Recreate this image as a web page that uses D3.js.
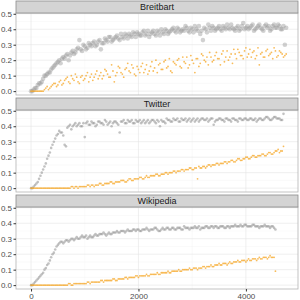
<!DOCTYPE html>
<html lang="en">
<head>
<meta charset="utf-8">
<title>Facets</title>
<script src="https://cdn.jsdelivr.net/npm/d3@7"></script>
<style>
body { margin: 0; background: #ffffff; }
svg { display: block; font-family: "Liberation Sans", Arial, sans-serif; }
</style>
</head>
<body>
<script>
// shared x positions (iterations): full steps and the half steps in between
var steps = [0,50,100,150,200,250,300,350,400,450,500,550,600,650,700,750,800,850,900,950,
  1000,1050,1100,1150,1200,1250,1300,1350,1400,1450,1500,1550,1600,1650,1700,1750,1800,1850,1900,1950,
  2000,2050,2100,2150,2200,2250,2300,2350,2400,2450,2500,2550,2600,2650,2700,2750,2800,2850,2900,2950,
  3000,3050,3100,3150,3200,3250,3300,3350,3400,3450,3500,3550,3600,3650,3700,3750,3800,3850,3900,3950,
  4000,4050,4100,4150,4200,4250,4300,4350,4400,4450,4500,4550,4600,4650,4700,4750];
var halfSteps = [25,75,125,175,225,275,325,375,425,475,525,575,625,675,725,775,825,875,925,975,
  1025,1075,1125,1175,1225,1275,1325,1375,1425,1475,1525,1575,1625,1675,1725,1775,1825,1875,1925,1975,
  2025,2075,2125,2175,2225,2275,2325,2375,2425,2475,2525,2575,2625,2675,2725,2775,2825,2875,2925,2975,
  3025,3075,3125,3175,3225,3275,3325,3375,3425,3475,3525,3575,3625,3675,3725,3775,3825,3875,3925,3975,
  4025,4075,4125,4175,4225,4275,4325,4375,4425,4475,4525,4575,4625,4675,4725];

var facetNames = ["Breitbart", "Twitter", "Wikipedia"];

var breitbartGrey = [0.00,0.01,0.02,0.05,0.06,0.10,0.11,0.12,0.15,0.17,0.19,0.18,0.22,0.23,0.20,0.25,0.24,0.27,0.33,0.26,
  0.29,0.28,0.30,0.31,0.29,0.32,0.27,0.31,0.33,0.35,0.32,0.34,0.36,0.33,0.35,0.37,0.34,0.36,0.38,0.35,
  0.37,0.36,0.39,0.37,0.35,0.38,0.37,0.39,0.36,0.38,0.40,0.37,0.39,0.41,0.38,0.40,0.39,0.39,0.41,0.38,
  0.40,0.42,0.39,0.37,0.33,0.40,0.43,0.39,0.41,0.40,0.42,0.39,0.41,0.43,0.40,0.41,0.39,0.42,0.40,0.44,
  0.41,0.40,0.42,0.39,0.41,0.43,0.40,0.42,0.41,0.39,0.42,0.41,0.43,0.40,0.42,0.41];
var breitbartGreyHalf = [0.00,0.02,0.04,0.05,0.08,0.10,0.12,0.14,0.16,0.18,0.20,0.21,0.21,0.24,0.23,0.26,0.25,0.28,0.27,0.30,
  0.27,0.31,0.29,0.32,0.30,0.33,0.31,0.34,0.32,0.35,0.33,0.35,0.34,0.37,0.34,0.36,0.37,0.35,0.37,0.38,
  0.36,0.38,0.36,0.39,0.37,0.39,0.36,0.38,0.40,0.37,0.39,0.38,0.40,0.39,0.41,0.38,0.40,0.42,0.39,0.41,
  0.38,0.40,0.42,0.39,0.41,0.38,0.41,0.42,0.39,0.41,0.40,0.42,0.40,0.41,0.43,0.40,0.41,0.39,0.42,0.40,
  0.42,0.41,0.43,0.40,0.42,0.41,0.39,0.43,0.42,0.40,0.43,0.41,0.42,0.40,0.30];
var breitbartOrange = [0.00,0.00,0.00,0.00,0.00,0.01,0.03,0.02,0.04,0.05,0.04,0.07,0.05,0.08,0.06,0.10,0.07,0.09,0.05,0.10,
  0.08,0.12,0.09,0.07,0.11,0.08,0.12,0.10,0.13,0.09,0.17,0.06,0.12,0.15,0.11,0.14,0.18,0.12,0.15,0.10,
  0.14,0.16,0.12,0.17,0.13,0.19,0.15,0.12,0.18,0.14,0.20,0.16,0.13,0.19,0.17,0.21,0.15,0.19,0.22,0.17,
  0.20,0.12,0.21,0.18,0.23,0.19,0.17,0.22,0.20,0.25,0.21,0.24,0.19,0.26,0.22,0.18,0.24,0.27,0.23,0.21,
  0.28,0.24,0.22,0.26,0.23,0.17,0.25,0.22,0.27,0.24,0.21,0.26,0.23,0.25,0.22,0.24];
var breitbartOrangeHalf = [0.00,0.00,0.00,0.00,0.00,0.02,0.01,0.03,0.05,0.03,0.06,0.04,0.07,0.09,0.05,0.08,0.11,0.06,0.09,0.07,
  0.10,0.06,0.11,0.09,0.13,0.10,0.08,0.14,0.11,0.09,0.13,0.10,0.16,0.12,0.09,0.15,0.13,0.17,0.11,0.16,
  0.12,0.18,0.14,0.11,0.16,0.13,0.20,0.17,0.14,0.19,0.15,0.21,0.12,0.18,0.20,0.16,0.22,0.18,0.15,0.23,
  0.18,0.21,0.16,0.24,0.20,0.22,0.25,0.19,0.23,0.21,0.17,0.26,0.22,0.20,0.24,0.27,0.21,0.25,0.23,0.26,
  0.22,0.27,0.25,0.21,0.28,0.24,0.22,0.26,0.23,0.25,0.28,0.22,0.26,0.24,0.23];

var twitterGrey = [0.00,0.01,0.03,0.06,0.10,0.14,0.19,0.23,0.28,0.32,0.35,0.36,0.34,0.27,0.40,0.38,0.41,0.40,0.42,0.40,
  0.33,0.43,0.41,0.42,0.40,0.43,0.42,0.41,0.43,0.42,0.40,0.43,0.42,0.36,0.43,0.42,0.44,0.43,0.42,0.44,
  0.43,0.42,0.44,0.43,0.42,0.44,0.43,0.44,0.40,0.43,0.42,0.44,0.43,0.45,0.44,0.43,0.45,0.44,0.43,0.45,
  0.44,0.43,0.45,0.44,0.45,0.44,0.43,0.45,0.41,0.44,0.45,0.44,0.43,0.45,0.44,0.45,0.44,0.43,0.45,0.44,
  0.45,0.44,0.45,0.44,0.43,0.45,0.44,0.45,0.46,0.44,0.45,0.46,0.45,0.44,0.48];
var twitterGreyHalf = [0.00,0.02,0.04,0.08,0.12,0.16,0.21,0.26,0.30,0.34,0.37,0.36,0.28,0.39,0.41,0.40,0.42,0.41,0.40,0.42,
  0.42,0.41,0.43,0.42,0.41,0.43,0.42,0.44,0.41,0.43,0.42,0.43,0.41,0.43,0.44,0.42,0.43,0.44,0.42,0.43,
  0.44,0.43,0.42,0.44,0.43,0.44,0.42,0.43,0.44,0.43,0.45,0.44,0.43,0.44,0.45,0.43,0.44,0.45,0.44,0.43,
  0.45,0.44,0.43,0.45,0.44,0.45,0.44,0.45,0.43,0.44,0.45,0.44,0.45,0.44,0.43,0.45,0.44,0.45,0.44,0.45,
  0.44,0.45,0.44,0.45,0.44,0.45,0.44,0.46,0.45,0.44,0.46,0.45,0.45,0.44];
var twitterOrange = [0.00,0.00,0.00,0.00,0.00,0.00,0.00,0.00,0.00,0.00,0.00,0.00,0.00,0.00,0.00,0.01,0.00,0.01,0.01,0.01,
  0.01,0.02,0.01,0.02,0.02,0.02,0.03,0.02,0.03,0.03,0.04,0.03,0.04,0.04,0.05,0.04,0.05,0.06,0.05,0.06,
  0.06,0.07,0.06,0.08,0.07,0.08,0.08,0.09,0.08,0.09,0.10,0.09,0.10,0.11,0.10,0.11,0.12,0.11,0.12,0.13,
  0.12,0.13,0.06,0.13,0.14,0.13,0.15,0.14,0.15,0.16,0.15,0.16,0.17,0.16,0.17,0.18,0.17,0.19,0.18,0.19,
  0.20,0.19,0.20,0.21,0.20,0.21,0.22,0.21,0.22,0.23,0.22,0.24,0.25,0.24,0.27];
var twitterOrangeHalf = [0.00,0.00,0.00,0.00,0.00,0.00,0.00,0.00,0.00,0.00,0.00,0.00,0.00,0.00,0.00,0.01,0.01,0.00,0.01,0.01,
  0.01,0.02,0.02,0.01,0.02,0.03,0.02,0.03,0.03,0.04,0.03,0.04,0.04,0.05,0.05,0.04,0.06,0.05,0.06,0.06,
  0.07,0.06,0.07,0.07,0.08,0.08,0.09,0.08,0.09,0.09,0.10,0.10,0.10,0.11,0.11,0.11,0.12,0.12,0.12,0.13,
  0.12,0.13,0.14,0.13,0.14,0.14,0.15,0.15,0.15,0.16,0.16,0.16,0.17,0.17,0.18,0.17,0.18,0.19,0.18,0.19,
  0.20,0.19,0.21,0.20,0.21,0.21,0.22,0.21,0.23,0.22,0.23,0.24,0.23,0.24];

var wikipediaGrey = [0.00,0.01,0.03,0.05,0.07,0.10,0.13,0.16,0.20,0.23,0.26,0.28,0.27,0.29,0.28,0.30,0.29,0.31,0.30,0.32,
  0.31,0.30,0.32,0.31,0.33,0.32,0.33,0.34,0.32,0.34,0.33,0.34,0.35,0.34,0.35,0.34,0.36,0.35,0.36,0.35,
  0.36,0.35,0.36,0.37,0.35,0.36,0.37,0.36,0.35,0.37,0.36,0.37,0.36,0.37,0.36,0.37,0.36,0.38,0.37,0.36,
  0.37,0.38,0.37,0.36,0.37,0.38,0.37,0.38,0.37,0.38,0.37,0.38,0.37,0.38,0.37,0.38,0.39,0.38,0.39,0.38,
  0.39,0.38,0.38,0.39,0.38,0.37,0.38,0.39,0.38,0.37,0.38,0.36];
var wikipediaGreyHalf = [0.00,0.02,0.04,0.06,0.08,0.11,0.14,0.18,0.21,0.25,0.27,0.28,0.28,0.29,0.29,0.30,0.30,0.30,0.31,0.31,
  0.32,0.31,0.31,0.32,0.32,0.33,0.33,0.33,0.33,0.33,0.34,0.34,0.34,0.35,0.35,0.35,0.35,0.35,0.36,0.36,
  0.35,0.36,0.36,0.36,0.36,0.36,0.37,0.35,0.36,0.36,0.37,0.36,0.37,0.36,0.37,0.37,0.36,0.37,0.37,0.37,
  0.37,0.37,0.38,0.37,0.37,0.38,0.37,0.38,0.38,0.37,0.38,0.38,0.37,0.38,0.38,0.38,0.38,0.38,0.38,0.39,
  0.38,0.38,0.39,0.38,0.38,0.38,0.38,0.38,0.38,0.38,0.37];
var wikipediaOrange = [0.00,0.00,0.00,0.00,0.00,0.00,0.00,0.00,0.00,0.00,0.00,0.00,0.00,0.00,0.01,0.00,0.01,0.01,0.01,0.01,
  0.01,0.02,0.01,0.02,0.02,0.02,0.03,0.02,0.03,0.03,0.03,0.04,0.03,0.04,0.04,0.05,0.04,0.05,0.05,0.06,
  0.05,0.06,0.06,0.07,0.06,0.07,0.07,0.08,0.07,0.08,0.08,0.09,0.08,0.09,0.09,0.10,0.09,0.10,0.10,0.11,
  0.10,0.11,0.10,0.11,0.12,0.11,0.12,0.13,0.12,0.13,0.14,0.13,0.14,0.13,0.15,0.14,0.15,0.16,0.15,0.16,
  0.15,0.17,0.16,0.17,0.16,0.18,0.17,0.18,0.17,0.19,0.18,0.09];
var wikipediaOrangeHalf = [0.00,0.00,0.00,0.00,0.00,0.00,0.00,0.00,0.00,0.00,0.00,0.00,0.00,0.00,0.01,0.00,0.01,0.01,0.01,0.01,
  0.01,0.02,0.02,0.02,0.02,0.02,0.03,0.03,0.03,0.03,0.04,0.03,0.04,0.04,0.04,0.05,0.05,0.05,0.05,0.06,
  0.06,0.06,0.06,0.06,0.07,0.07,0.07,0.07,0.08,0.08,0.08,0.08,0.09,0.09,0.09,0.09,0.10,0.10,0.10,0.10,
  0.11,0.11,0.11,0.11,0.12,0.12,0.12,0.12,0.13,0.13,0.13,0.14,0.14,0.14,0.14,0.15,0.15,0.15,0.16,0.16,
  0.16,0.16,0.17,0.17,0.17,0.17,0.18,0.18,0.18,0.18,0.18];

var xTicks = [0, 2000, 4000];
var xMinor = [1000, 3000];
var yTicks = [0, 0.1, 0.2, 0.3, 0.4, 0.5];
var yMinor = [0.05, 0.15, 0.25, 0.35, 0.45];

var greySeries = [[breitbartGrey, breitbartGreyHalf], [twitterGrey, twitterGreyHalf], [wikipediaGrey, wikipediaGreyHalf]];
var orangeSeries = [[breitbartOrange, breitbartOrangeHalf], [twitterOrange, twitterOrangeHalf], [wikipediaOrange, wikipediaOrangeHalf]];

function toPoints(pair) {
  var a = pair[0].map(function(v, i) { return {x: steps[i], y: v}; });
  var b = pair[1].map(function(v, i) { return {x: halfSteps[i], y: v}; });
  return a.concat(b);
}

var width = 300, height = 300;
var left = 16, right = 298;
var stripH = 12, panelH = 82, gap = 3, top0 = 1;

var svg = d3.select("body").append("svg").attr("width", width).attr("height", height);

var x = d3.scaleLinear().domain([-280, 4970]).range([left, right]);

var greyR = [2.3, 1.3, 1.3];
var greyOp = [0.45, 0.6, 0.6];

facetNames.forEach(function(name, k) {
  var stripTop = top0 + k * (stripH + panelH + gap);
  var pTop = stripTop + stripH, pBot = pTop + panelH;
  var y = d3.scaleLinear().domain([-0.025, 0.505]).range([pBot, pTop]);
  var g = svg.append("g");

  g.append("rect").attr("x", left).attr("y", pTop).attr("width", right - left).attr("height", panelH).attr("fill", "#fff");

  // grid
  g.selectAll(".ymin").data(yMinor).enter().append("line")
    .attr("x1", left).attr("x2", right).attr("y1", d => y(d)).attr("y2", d => y(d))
    .attr("stroke", "#f2f2f2").attr("stroke-width", 0.4);
  g.selectAll(".xmin").data(xMinor).enter().append("line")
    .attr("y1", pTop).attr("y2", pBot).attr("x1", d => x(d)).attr("x2", d => x(d))
    .attr("stroke", "#f2f2f2").attr("stroke-width", 0.4);
  g.selectAll(".ymaj").data(yTicks).enter().append("line")
    .attr("x1", left).attr("x2", right).attr("y1", d => y(d)).attr("y2", d => y(d))
    .attr("stroke", "#e4e4e4").attr("stroke-width", 0.6);
  g.selectAll(".xmaj").data(xTicks).enter().append("line")
    .attr("y1", pTop).attr("y2", pBot).attr("x1", d => x(d)).attr("x2", d => x(d))
    .attr("stroke", "#e4e4e4").attr("stroke-width", 0.6);

  g.selectAll(".g").data(toPoints(greySeries[k])).enter().append("circle")
    .attr("cx", d => x(d.x)).attr("cy", d => y(d.y)).attr("r", greyR[k])
    .attr("fill", "#999999").attr("fill-opacity", greyOp[k]);
  g.selectAll(".o").data(toPoints(orangeSeries[k])).enter().append("circle")
    .attr("cx", d => x(d.x)).attr("cy", d => y(d.y)).attr("r", 0.9)
    .attr("fill", "#f5a623").attr("fill-opacity", 0.75);

  // border
  g.append("rect").attr("x", left).attr("y", pTop).attr("width", right - left).attr("height", panelH)
    .attr("fill", "none").attr("stroke", "#b3b3b3").attr("stroke-width", 0.8);

  // strip
  g.append("rect").attr("x", left).attr("y", stripTop).attr("width", right - left).attr("height", stripH)
    .attr("fill", "#d4d4d4").attr("stroke", "#8c8c8c").attr("stroke-width", 0.8);
  g.append("text").attr("x", (left + right) / 2).attr("y", stripTop + stripH / 2 + 3.2)
    .attr("text-anchor", "middle").attr("font-size", 9).attr("fill", "#1a1a1a").text(name);

  // y axis
  var ya = d3.axisLeft(y).tickValues(yTicks).tickFormat(d3.format(".1f")).tickSize(2.5).tickPadding(1.5);
  var yg = g.append("g").attr("transform", "translate(" + left + ",0)").call(ya);
  yg.select(".domain").remove();
  yg.selectAll("line").attr("stroke", "#333");
  yg.selectAll("text").attr("fill", "#4d4d4d").attr("font-size", 8).attr("font-family", "Liberation Sans, Arial, sans-serif");

  if (k === facetNames.length - 1) {
    var xa = d3.axisBottom(x).tickValues(xTicks).tickFormat(d3.format("d")).tickSize(2.5).tickPadding(1.5);
    var xg = g.append("g").attr("transform", "translate(0," + pBot + ")").call(xa);
    xg.select(".domain").remove();
    xg.selectAll("line").attr("stroke", "#333");
    xg.selectAll("text").attr("fill", "#4d4d4d").attr("font-size", 8).attr("font-family", "Liberation Sans, Arial, sans-serif");
  }
});
</script>
</body>
</html>
